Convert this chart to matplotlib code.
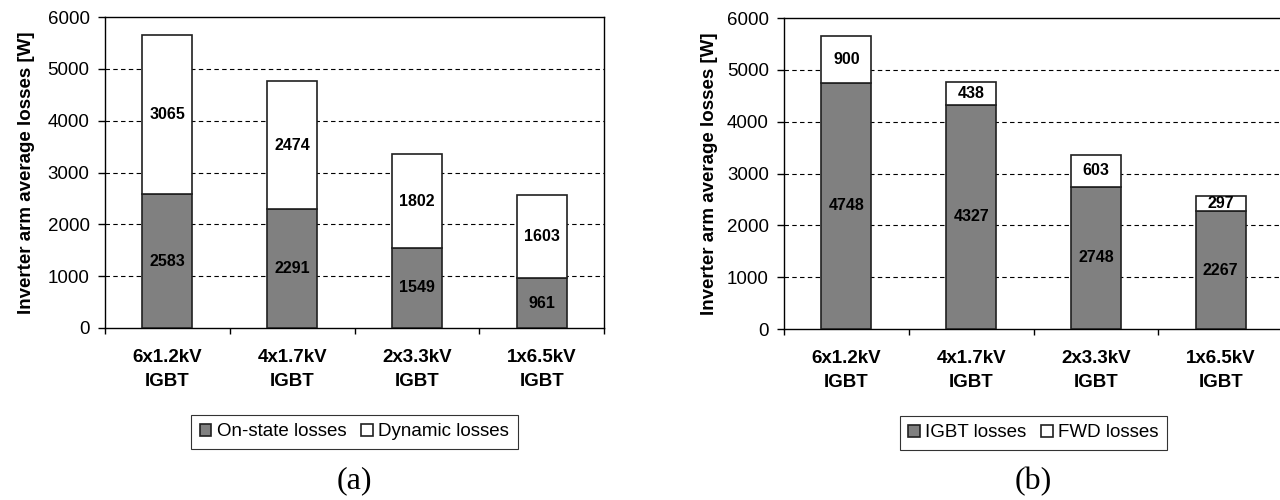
import matplotlib.pyplot as plt
import numpy as np

plt.rcParams['font.family'] = ['Liberation Sans', 'DejaVu Sans']

categories = ['6x1.2kV\nIGBT', '4x1.7kV\nIGBT', '2x3.3kV\nIGBT', '1x6.5kV\nIGBT']
onstate = [2583, 2291, 1549, 961]
dynamic = [3065, 2474, 1802, 1603]
igbt = [4748, 4327, 2748, 2267]
fwd = [900, 438, 603, 297]

GRAY = '#808080'


def draw_panel(ax, low, high, labels, tag, lpad):
    x = np.arange(len(categories))
    b1 = ax.bar(x, low, width=0.4, color=GRAY, edgecolor='#202020', linewidth=1.2,
                label=labels[0], zorder=3)
    b2 = ax.bar(x, high, width=0.4, bottom=low, color='white', edgecolor='#202020',
                linewidth=1.2, label=labels[1], zorder=3)
    for i in range(len(x)):
        ax.text(x[i], low[i] / 2, str(low[i]), ha='center', va='center',
                fontsize=11.5, fontweight='bold', zorder=4)
        ax.text(x[i], low[i] + high[i] / 2, str(high[i]), ha='center', va='center',
                fontsize=11.5, fontweight='bold', zorder=4)

    ax.set_xlim(-0.5, len(x) - 0.5)
    ax.set_ylim(0, 6000)
    ax.set_yticks(range(0, 6001, 1000))
    ax.tick_params(axis='y', labelsize=13.5, direction='out', length=5, width=1, pad=6)
    for y in range(1000, 6000, 1000):
        ax.axhline(y, color='black', linestyle=(0, (4, 3)), linewidth=0.8, zorder=1)

    ax.set_xticks(np.arange(-0.5, len(x), 1))
    ax.set_xticklabels([])
    ax.tick_params(axis='x', which='major', direction='out', length=4.5, width=1)
    ax.set_xticks(x, minor=True)
    ax.set_xticklabels(categories, minor=True, fontsize=13.5, fontweight='bold',
                       linespacing=1.55)
    ax.tick_params(axis='x', which='minor', length=0, pad=15)

    for s in ax.spines.values():
        s.set_linewidth(1.0)
        s.set_color('black')

    ax.set_ylabel('Inverter arm average losses [W]', fontsize=13.5,
                  fontweight='bold', labelpad=lpad)

    leg = ax.legend(handles=[b1, b2], loc='center', bbox_to_anchor=(0.5, -0.334),
                    ncol=2, fontsize=13.5, frameon=True, fancybox=False,
                    handlelength=0.6, handleheight=0.6, handletextpad=0.3,
                    columnspacing=0.8, borderpad=0.45, borderaxespad=0,
                    edgecolor='black')
    leg.get_frame().set_linewidth(0.8)

    ax.text(0.5, -0.492, tag, transform=ax.transAxes, ha='center', va='center',
            fontsize=23, family='Liberation Serif')


fig = plt.figure(figsize=(12.8, 5), dpi=100)
ax1 = fig.add_axes([0.082, 0.344, 0.390, 0.622])
ax2 = fig.add_axes([0.6125, 0.342, 0.390, 0.622])

draw_panel(ax1, onstate, dynamic, ['On-state losses', 'Dynamic losses'], '(a)', 9)
draw_panel(ax2, igbt, fwd, ['IGBT losses', 'FWD losses'], '(b)', 6)

fig.savefig('out.png', dpi=100)
